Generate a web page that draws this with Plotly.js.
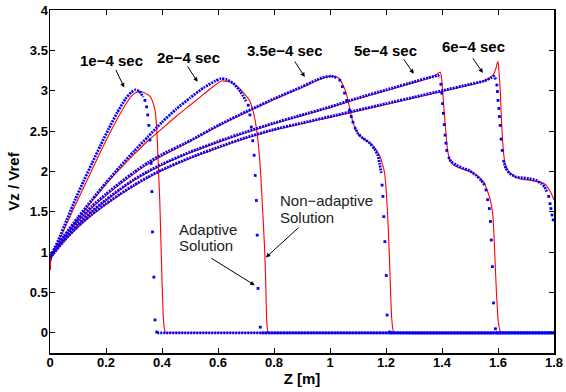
<!DOCTYPE html>
<html>
<head>
<meta charset="utf-8">
<script src="https://cdn.plot.ly/plotly-3.0.1.min.js"></script>
<style>
html,body{margin:0;padding:0;background:#fff;}
#chart{width:566px;height:392px;}
</style>
</head>
<body>
<div id="chart"></div>
<script>
// ---------- Adaptive solution (blue dots) ----------
// 1e-4 sec
const zA1 = [0, 0.01, 0.03, 0.06, 0.09, 0.12, 0.15, 0.18, 0.21, 0.24, 0.27, 0.29, 0.305, 0.32, 0.333, null, 0.383, 1.8];
const vA1 = [0.92, 1.0, 1.15, 1.40, 1.65, 1.88, 2.10, 2.32, 2.53, 2.73, 2.90, 2.98, 3.01, 2.99, 2.92, null, 0, 0];
const zA1dots = [0.339, 0.345, 0.349, 0.353, 0.357, 0.361, 0.364, 0.366, 0.371, 0.375, 0.381];
const vA1dots = [2.88, 2.80, 2.70, 2.57, 2.39, 2.10, 1.75, 1.25, 0.69, 0.16, 0.01];
// 2e-4 sec
const zA2 = [0, 0.01, 0.05, 0.1, 0.15, 0.2, 0.25, 0.3, 0.35, 0.4, 0.45, 0.5, 0.55, 0.59, 0.61, 0.63, 0.655, 0.68, 0.70, null, 0.755, 1.8];
const vA2 = [0.92, 1.0, 1.2, 1.43, 1.65, 1.86, 2.06, 2.25, 2.43, 2.61, 2.77, 2.91, 3.04, 3.12, 3.15, 3.14, 3.09, 2.99, 2.87, null, 0, 0];
const zA2dots = [0.708, 0.714, 0.719, 0.724, 0.729, 0.733, 0.737, 0.740, 0.743, 0.751];
const vA2dots = [2.82, 2.70, 2.55, 2.38, 2.20, 1.95, 1.64, 1.21, 0.55, 0.07];
// 3.5e-4 sec
const zA3 = [0, 0.01, 0.05, 0.1, 0.15, 0.2, 0.25, 0.3, 0.35, 0.4, 0.5, 0.6, 0.7, 0.8, 0.9, 0.95, 0.98, 1.005, 1.025, null,
             1.088, 1.1, 1.118, 1.142, 1.159, 1.171, 1.177, 1.183, null, 1.215, 1.8];
const vA3 = [0.92, 0.99, 1.19, 1.40, 1.57, 1.72, 1.86, 1.99, 2.11, 2.21, 2.38, 2.57, 2.74, 2.90, 3.05, 3.13, 3.17, 3.18, 3.16, null,
             2.55, 2.47, 2.41, 2.35, 2.28, 2.20, 2.10, 1.98, null, 0, 0];
const zA3dots = [1.035, 1.044, 1.052, 1.06, 1.07, 1.076, 1.082, 1.186, 1.189, 1.192, 1.196, 1.201, 1.204, 1.212];
const vA3dots = [3.13, 3.05, 2.97, 2.88, 2.76, 2.68, 2.61, 1.83, 1.69, 1.44, 1.13, 0.71, 0.22, 0.01];
// 5e-4 sec
const zA4 = [0, 0.01, 0.05, 0.1, 0.15, 0.2, 0.25, 0.3, 0.35, 0.4, 0.5, 0.6, 0.7, 0.8, 0.9, 1.0, 1.1, 1.2, 1.3, 1.35, 1.375, 1.385, 1.392, null,
             1.423, 1.433, 1.45, 1.474, 1.498, 1.522, 1.54, 1.552, null, 1.594, 1.8];
const vA4 = [0.92, 0.98, 1.16, 1.35, 1.51, 1.65, 1.78, 1.90, 2.00, 2.09, 2.24, 2.37, 2.49, 2.60, 2.70, 2.80, 2.91, 3.01, 3.11, 3.16, 3.18, 3.19, 3.16, null,
             2.18, 2.12, 2.08, 2.04, 2.01, 1.95, 1.89, 1.83, null, 0, 0];
const zA4dots = [1.396, 1.399, 1.402, 1.405, 1.408, 1.411, 1.414, 1.417, 1.557, 1.563, 1.569, 1.573, 1.576, 1.580, 1.584, 1.591];
const vA4dots = [3.08, 2.97, 2.84, 2.72, 2.58, 2.45, 2.35, 2.26, 1.77, 1.65, 1.54, 1.38, 1.15, 0.82, 0.37, 0.05];
// 6e-4 sec
const zA5 = [0, 0.01, 0.05, 0.1, 0.15, 0.2, 0.25, 0.3, 0.35, 0.4, 0.5, 0.6, 0.7, 0.8, 0.9, 1.0, 1.1, 1.2, 1.3, 1.4, 1.5, 1.55, 1.575, 1.585, 1.592, null,
             1.619, 1.628, 1.64, 1.664, 1.688, 1.712, 1.736, 1.754, 1.766, 1.774];
const vA5 = [0.92, 0.97, 1.14, 1.32, 1.47, 1.60, 1.72, 1.83, 1.93, 2.02, 2.17, 2.30, 2.42, 2.52, 2.60, 2.68, 2.76, 2.84, 2.92, 3.00, 3.08, 3.12, 3.16, 3.18, 3.14, null,
             2.14, 2.04, 1.98, 1.93, 1.92, 1.91, 1.89, 1.85, 1.81, 1.75];
const zA5dots = [1.596, 1.598, 1.600, 1.603, 1.605, 1.608, 1.611, 1.615, 1.781, 1.786, 1.789, 1.793, 1.797];
const vA5dots = [3.07, 2.99, 2.88, 2.78, 2.68, 2.57, 2.40, 2.26, 1.69, 1.60, 1.54, 1.46, 1.40];

// ---------- Non-adaptive solution (red lines) ----------
const zN1 = [0, 0.004, 0.01, 0.03, 0.06, 0.09, 0.12, 0.15, 0.18, 0.21, 0.24, 0.27, 0.29, 0.31, 0.325, 0.34, 0.357, 0.368, 0.375, 0.381, 0.386, 0.392, 0.396, 0.400, 0.404, 0.408, 0.413, 0.42, 1.8];
const vN1 = [0.78, 0.95, 1.0, 1.12, 1.35, 1.58, 1.80, 2.02, 2.24, 2.45, 2.65, 2.83, 2.93, 2.98, 2.99, 2.97, 2.93, 2.85, 2.76, 2.55, 2.14, 1.64, 1.15, 0.65, 0.25, 0.06, 0.0, 0, 0];
const zN2 = [0, 0.004, 0.01, 0.05, 0.1, 0.15, 0.2, 0.25, 0.3, 0.35, 0.4, 0.45, 0.5, 0.55, 0.59, 0.612, 0.64, 0.67, 0.69, 0.714, 0.731, 0.742, 0.750, 0.756, 0.762, 0.767, 0.771, 0.774, 0.779, 0.785, 1.8];
const vN2 = [0.78, 0.95, 1.0, 1.18, 1.41, 1.63, 1.84, 2.03, 2.21, 2.38, 2.53, 2.68, 2.82, 2.96, 3.07, 3.12, 3.11, 3.05, 2.98, 2.87, 2.66, 2.40, 2.10, 1.75, 1.35, 1.0, 0.55, 0.15, 0.0, 0, 0];
const zN3 = [0, 0.004, 0.01, 0.05, 0.1, 0.15, 0.2, 0.25, 0.3, 0.35, 0.4, 0.5, 0.6, 0.7, 0.8, 0.9, 0.95, 0.98, 1.005, 1.03, 1.045, 1.058, 1.066, 1.074, 1.082, 1.092, 1.106, 1.13, 1.153, 1.168, 1.177, 1.188, 1.195, 1.201, 1.206, 1.211, 1.216, 1.220, 1.226, 1.232, 1.8];
const vN3 = [0.78, 0.95, 0.99, 1.18, 1.38, 1.55, 1.70, 1.84, 1.97, 2.09, 2.19, 2.37, 2.56, 2.73, 2.89, 3.04, 3.12, 3.16, 3.18, 3.16, 3.08, 2.97, 2.85, 2.72, 2.61, 2.52, 2.44, 2.38, 2.32, 2.25, 2.20, 2.08, 1.98, 1.75, 1.45, 1.05, 0.55, 0.2, 0.02, 0, 0];
const zN4 = [0, 0.004, 0.01, 0.05, 0.1, 0.15, 0.2, 0.25, 0.3, 0.35, 0.4, 0.5, 0.6, 0.7, 0.8, 0.9, 1.0, 1.1, 1.2, 1.3, 1.35, 1.375, 1.388, 1.394, 1.398, 1.403, 1.409, 1.415, 1.42, 1.429, 1.445, 1.474, 1.50, 1.522, 1.54, 1.552, 1.562, 1.57, 1.577, 1.582, 1.588, 1.594, 1.601, 1.607, 1.613, 1.8];
const vN4 = [0.78, 0.95, 0.98, 1.15, 1.34, 1.50, 1.64, 1.77, 1.89, 1.99, 2.08, 2.23, 2.36, 2.48, 2.59, 2.69, 2.79, 2.90, 3.00, 3.10, 3.15, 3.19, 3.22, 3.23, 3.17, 2.97, 2.68, 2.43, 2.26, 2.13, 2.07, 2.03, 2.00, 1.96, 1.90, 1.85, 1.76, 1.68, 1.57, 1.44, 1.02, 0.53, 0.14, 0.03, 0, 0];
const zN5 = [0, 0.004, 0.01, 0.05, 0.1, 0.15, 0.2, 0.25, 0.3, 0.35, 0.4, 0.5, 0.6, 0.7, 0.8, 0.9, 1.0, 1.1, 1.2, 1.3, 1.4, 1.5, 1.55, 1.575, 1.585, 1.592, 1.597, 1.600, 1.603, 1.608, 1.612, 1.617, 1.623, 1.631, 1.647, 1.677, 1.712, 1.748, 1.772, 1.785, 1.795, 1.8];
const vN5 = [0.78, 0.95, 0.97, 1.13, 1.31, 1.46, 1.59, 1.71, 1.82, 1.92, 2.01, 2.16, 2.29, 2.41, 2.51, 2.59, 2.67, 2.75, 2.83, 2.91, 2.99, 3.07, 3.12, 3.17, 3.21, 3.27, 3.34, 3.36, 3.26, 3.01, 2.68, 2.35, 2.14, 2.04, 1.97, 1.91, 1.89, 1.87, 1.83, 1.76, 1.69, 1.65];

// ---------- Labels ----------
const timeLabels = ['1e\u22124 sec', '2e\u22124 sec', '3.5e\u22124 sec', '5e\u22124 sec', '6e\u22124 sec'];
const xTickVals = [0, 0.2, 0.4, 0.6, 0.8, 1, 1.2, 1.4, 1.6, 1.8];
const yTickVals = [0, 0.5, 1, 1.5, 2, 2.5, 3, 3.5, 4];

const RED = 'rgb(255,0,0)';
const BLUE = 'rgb(0,0,255)';

const redSets = [[zN1, vN1], [zN2, vN2], [zN3, vN3], [zN4, vN4], [zN5, vN5]];
const blueSets = [[zA1, vA1], [zA2, vA2], [zA3, vA3], [zA4, vA4], [zA5, vA5]];
const dotSets = [[zA1dots, vA1dots], [zA2dots, vA2dots], [zA3dots, vA3dots], [zA4dots, vA4dots], [zA5dots, vA5dots]];

const traces = [];
redSets.forEach(([x, y]) => traces.push({
  x, y, type: 'scatter', mode: 'lines',
  line: {color: RED, width: 1.1, shape: 'spline', smoothing: 0.5},
  hoverinfo: 'skip', showlegend: false
}));
blueSets.forEach(([x, y]) => traces.push({
  x, y, type: 'scatter', mode: 'lines', connectgaps: false,
  line: {color: BLUE, width: 2.8, dash: '2px,1px', shape: 'spline', smoothing: 0.5},
  hoverinfo: 'skip', showlegend: false
}));
dotSets.forEach(([x, y]) => traces.push({
  x, y, type: 'scatter', mode: 'markers',
  marker: {color: BLUE, size: 2.8, symbol: 'square'},
  hoverinfo: 'skip', showlegend: false
}));

const FONT = 'Liberation Sans, Arial, Helvetica, sans-serif';
const labelPos = [[0.220, 3.38], [0.493, 3.41], [0.838, 3.50], [1.198, 3.50], [1.512, 3.545]];
const arrowHeads = [[0.265, 3.04, -9, -19], [0.527, 3.11, -11, -17], [0.91, 3.17, -11, -17], [1.299, 3.21, -11, -16], [1.546, 3.22, -11, -16]];

const annotations = [];
timeLabels.forEach((t, i) => {
  annotations.push({x: labelPos[i][0], y: labelPos[i][1], xref: 'x', yref: 'y', text: t, showarrow: false,
    font: {family: FONT, size: 15, color: '#000', weight: 'bold'}});
  const a = arrowHeads[i];
  annotations.push({x: a[0], y: a[1], xref: 'x', yref: 'y', text: '', showarrow: true, ax: a[2], ay: a[3],
    arrowhead: 2, arrowsize: 0.9, arrowwidth: 1, arrowcolor: '#000', font: {size: 1}});
});
const noteFont = {family: FONT, size: 15, color: '#222'};
annotations.push({x: 0.452, y: 1.285, xref: 'x', yref: 'y', xanchor: 'left', text: 'Adaptive', showarrow: false, font: noteFont});
annotations.push({x: 0.452, y: 1.081, xref: 'x', yref: 'y', xanchor: 'left', text: 'Solution', showarrow: false, font: noteFont});
annotations.push({x: 0.8145, y: 1.634, xref: 'x', yref: 'y', xanchor: 'left', text: 'Non\u2212adaptive', showarrow: false, font: noteFont});
annotations.push({x: 0.8145, y: 1.427, xref: 'x', yref: 'y', xanchor: 'left', text: 'Solution', showarrow: false, font: noteFont});
annotations.push({x: 0.731, y: 0.59, xref: 'x', yref: 'y', text: '', showarrow: true, ax: -45, ay: -28,
  arrowhead: 2, arrowsize: 0.9, arrowwidth: 1, arrowcolor: '#000', font: {size: 1}});
annotations.push({x: 0.771, y: 0.934, xref: 'x', yref: 'y', text: '', showarrow: true, ax: 34, ay: -31,
  arrowhead: 2, arrowsize: 0.9, arrowwidth: 1, arrowcolor: '#000', font: {size: 1}});

const axisCommon = {
  showline: true, linecolor: '#000', linewidth: 1.5, mirror: 'allticks',
  ticks: 'inside', ticklen: 5, tickwidth: 1, tickcolor: '#000',
  showgrid: false, zeroline: false,
  tickfont: {family: FONT, size: 13, color: '#000', weight: 'bold'}
};

const layout = {
  width: 566, height: 392,
  margin: {l: 50, r: 12, t: 10, b: 39, pad: 0},
  paper_bgcolor: '#fff', plot_bgcolor: '#fff',
  showlegend: false,
  xaxis: Object.assign({}, axisCommon, {
    range: [0, 1.8], tickvals: xTickVals, ticklabelstandoff: -3,
    title: {text: 'Z [m]', font: {family: FONT, size: 15, color: '#000', weight: 'bold'}, standoff: 4}
  }),
  yaxis: Object.assign({}, axisCommon, {
    range: [-0.25, 4], tickvals: yTickVals, ticklabelstandoff: -2,
    title: {text: 'Vz / Vref', font: {family: FONT, size: 15, color: '#000', weight: 'bold'}, standoff: 6}
  }),
  annotations
};

Plotly.newPlot('chart', traces, layout, {staticPlot: true, displayModeBar: false});
</script>
</body>
</html>
